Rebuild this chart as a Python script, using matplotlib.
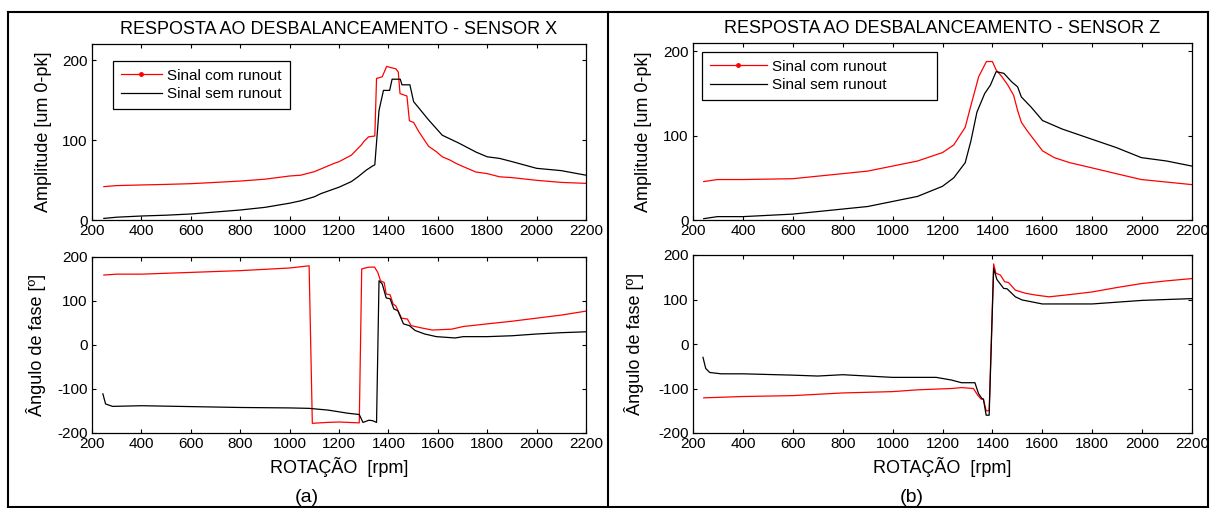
import matplotlib
matplotlib.use('Agg')
import matplotlib.pyplot as plt
from matplotlib.lines import Line2D

plt.rcParams['font.family'] = ['Liberation Sans', 'DejaVu Sans']
plt.rcParams['axes.unicode_minus'] = False

W, H = 1210, 508

# ---- dados: sensor X ----
rpm_ax_red = [248, 300, 400, 500, 600, 700, 800, 900, 1000, 1045, 1100, 1182, 1200, 1250, 1291, 1300,
              1320, 1345, 1352, 1375, 1393, 1410, 1430, 1440, 1447, 1475, 1485, 1502, 1524, 1563,
              1594, 1618, 1649, 1672, 1703, 1754, 1800, 1850, 1900, 2000, 2100, 2200]
amp_ax_red = [41.7, 43, 43.8, 44.5, 45.4, 47, 48.7, 51, 55, 56, 60.4, 71, 72.9, 81, 94, 97.9,
              104, 105, 177, 179, 192, 190.5, 189, 185, 158, 155, 124, 122, 110, 92,
              85.4, 79, 75, 71, 66.7, 60, 58, 54, 53, 49.6, 47, 45.8]
rpm_ax_blk = [248, 300, 400, 500, 600, 700, 800, 900, 1000, 1045, 1100, 1127, 1200, 1250, 1277, 1311,
              1336, 1345, 1362, 1380, 1405, 1415, 1448, 1455, 1487, 1502, 1563, 1618, 1686, 1754,
              1800, 1850, 1900, 2000, 2100, 2200]
amp_ax_blk = [2, 3.5, 5, 6, 7.5, 10, 12.5, 15.8, 21, 24, 29, 33, 41, 48, 54, 62.5,
              67.5, 69, 137, 162, 162, 176, 176, 169, 169, 148, 125, 106, 96, 85,
              79, 77, 73, 64.6, 61.7, 56]

rpm_fx_red = [248, 300, 400, 600, 800, 1000, 1079, 1092, 1150, 1200, 1282, 1292, 1321, 1344, 1357,
              1368, 1383, 1391, 1407, 1419, 1430, 1453, 1477, 1492, 1532, 1578, 1656, 1703, 1800,
              1900, 2000, 2100, 2200]
fase_x_red = [159, 161, 161, 165, 169, 175, 180, -178, -176, -175, -177, 173, 177, 177, 165,
              146, 142, 116, 114, 93, 89, 61, 59, 44, 39, 34, 36, 42, 48,
              54, 61, 68, 77]
rpm_fx_blk = [244, 255, 283, 400, 600, 800, 1000, 1079, 1157, 1235, 1282, 1297, 1321, 1336, 1352,
              1362, 1375, 1391, 1407, 1422, 1438, 1461, 1485, 1508, 1547, 1594, 1670, 1703, 1800,
              1900, 2000, 2100, 2200]
fase_x_blk = [-111, -134, -139.5, -138, -140, -142, -143, -144, -148, -155, -158, -176, -171, -172, -176,
              146, 139, 107, 105, 82, 78, 48, 44, 33, 25, 19, 16, 19, 19,
              21, 25, 28, 30]

# ---- dados: sensor Z ----
rpm_az_red = [243, 298, 400, 600, 800, 900, 1000, 1100, 1200, 1245, 1291, 1314, 1345, 1376, 1400,
              1415, 1438, 1462, 1485, 1501, 1516, 1539, 1570, 1601, 1648, 1710, 1797, 1896, 1997,
              2098, 2199]
amp_az_red = [45.6, 48, 48, 49, 55, 58, 64, 70, 80, 89, 110, 136, 170, 188, 188,
              178, 170, 160, 148, 130, 116, 106, 94, 82, 74, 68, 62, 55, 48,
              45, 42]
rpm_az_blk = [243, 298, 400, 600, 800, 900, 1000, 1100, 1200, 1245, 1291, 1314, 1338, 1369, 1392,
              1415, 1446, 1477, 1501, 1516, 1555, 1601, 1679, 1797, 1896, 1997, 2098, 2199]
amp_az_blk = [1.6, 4, 4, 7, 13, 16, 22, 28, 40, 50, 68, 94, 128, 150, 160,
              176, 174, 164, 158, 146, 134, 118, 108, 96, 86, 74, 70, 64]

rpm_fz_red = [243, 400, 600, 800, 1000, 1100, 1236, 1276, 1324, 1341, 1355, 1364, 1375, 1387, 1405,
              1414, 1432, 1449, 1465, 1492, 1533, 1573, 1627, 1710, 1800, 1900, 2000, 2100, 2200]
fase_z_red = [-121, -118, -116, -110, -107, -103, -100, -98, -100, -115, -124, -124, -150, -150, 180,
              159, 155, 140, 138, 121, 114, 110, 106, 111, 117, 127, 136, 142, 147]
rpm_fz_blk = [240, 251, 267, 313, 400, 600, 700, 800, 1000, 1175, 1236, 1276, 1330, 1344, 1357,
              1364, 1375, 1387, 1405, 1418, 1445, 1459, 1492, 1519, 1573, 1600, 1800, 2000, 2200]
fase_z_blk = [-30, -55, -64, -67, -67, -70, -72, -69, -75, -75, -81, -87, -87, -111, -122,
              -124, -160, -160, 170, 145, 125, 124, 106, 99, 93, 90, 90, 98, 102]

xticks = list(range(200, 2201, 200))
legenda = ['Sinal com runout', 'Sinal sem runout']


def rect(l, t, r, b):
    # pixels -> fracao da figura
    return [l / W, 1 - b / H, (r - l) / W, (b - t) / H]


def estilo(ax, ylim, yticks):
    ax.set_xlim(200, 2200)
    ax.set_ylim(*ylim)
    ax.set_xticks(xticks)
    ax.set_yticks(yticks)
    ax.tick_params(direction='in', top=True, right=True, length=3, width=0.8,
                   labelsize=11, pad=3)
    for s in ax.spines.values():
        s.set_linewidth(0.9)


fig = plt.figure(figsize=(W / 100, H / 100), dpi=100)

paineis = [
    dict(l=92, r=586, t1=44, t2=257, ylim=(0, 220), titulo='RESPOSTA AO DESBALANCEAMENTO - SENSOR X',
         amp=(rpm_ax_red, amp_ax_red, rpm_ax_blk, amp_ax_blk),
         fase=(rpm_fx_red, fase_x_red, rpm_fx_blk, fase_x_blk),
         leg=(113, 61, 177), hl=2.7, yl=(52, 46), letra='(a)', cx=307),
    dict(l=693, r=1192, t1=43, t2=255, ylim=(0, 210), titulo='RESPOSTA AO DESBALANCEAMENTO - SENSOR Z',
         amp=(rpm_az_red, amp_az_red, rpm_az_blk, amp_az_blk),
         fase=(rpm_fz_red, fase_z_red, rpm_fz_blk, fase_z_blk),
         leg=(702, 52, 235), hl=3.75, yl=(652, 644), letra='(b)', cx=912),
]

for p in paineis:
    largura = p['r'] - p['l']

    # amplitude
    ax1 = fig.add_axes(rect(p['l'], p['t1'], p['r'], 220))
    xr, yr, xb, yb = p['amp']
    ax1.plot(xr, yr, color='red', lw=0.9)
    ax1.plot(xb, yb, color='black', lw=0.9)
    estilo(ax1, p['ylim'], [0, 100, 200])
    ax1.set_title(p['titulo'], fontsize=13, pad=7)
    ax1.set_ylabel('Amplitude [um 0-pk]', fontsize=13)
    ax1.yaxis.set_label_coords((p['yl'][0] - p['l']) / largura, 0.5)
    handles = [Line2D([], [], color='red', lw=0.9, marker='.', markersize=5),
               Line2D([], [], color='black', lw=0.9)]
    lx, ly, lw_ = p['leg']
    lg = ax1.legend(handles, legenda, loc='upper left', mode='expand',
                    bbox_to_anchor=(lx / W, 1 - ly / H - 0.01, lw_ / W, 0.01),
                    bbox_transform=fig.transFigure, borderaxespad=0, fancybox=False,
                    framealpha=1, edgecolor='black', fontsize=11, handlelength=p['hl'],
                    handletextpad=0.35, borderpad=0.5, labelspacing=0.3)
    lg.get_frame().set_linewidth(0.9)

    # fase
    ax2 = fig.add_axes(rect(p['l'], p['t2'], p['r'], 433))
    xr, yr, xb, yb = p['fase']
    ax2.plot(xr, yr, color='red', lw=0.9)
    ax2.plot(xb, yb, color='black', lw=0.9)
    estilo(ax2, (-200, 200), [-200, -100, 0, 100, 200])
    ax2.set_ylabel('Ângulo de fase [º]', fontsize=13)
    ax2.yaxis.set_label_coords((p['yl'][1] - p['l']) / largura, 0.5)
    ax2.set_xlabel('ROTAÇÃO  [rpm]', fontsize=13)
    ax2.xaxis.label.set_va('center')
    ax2.xaxis.set_label_coords(0.5, (433 - 467) / (433 - p['t2']))

    fig.text(p['cx'] / W, 1 - 497 / H, p['letra'], ha='center', va='center', fontsize=14)

# moldura da tabela
kw = dict(color='black', lw=1.5, transform=fig.transFigure)
for x0, y0, x1, y1 in [(8, 12, 1208, 12), (8, 12, 8, 508), (608, 12, 608, 508),
                       (1208, 12, 1208, 508), (8, 507, 1208, 507)]:
    fig.add_artist(Line2D([x0 / W, x1 / W], [1 - y0 / H, 1 - y1 / H], **kw))

fig.savefig('out.png', dpi=100)
